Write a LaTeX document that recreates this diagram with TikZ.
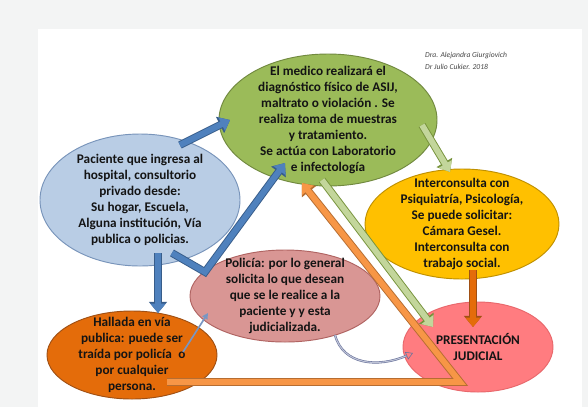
\documentclass[tikz,border=0pt]{standalone}
\usepackage{fontspec}
\setmainfont{Carlito}
\usetikzlibrary{shapes.geometric,arrows.meta}

\definecolor{fondo}{RGB}{243,244,244}
\definecolor{azul}{RGB}{185,205,229}
\definecolor{azulborde}{RGB}{120,148,186}
\definecolor{verde}{RGB}{155,187,89}
\definecolor{verdeborde}{RGB}{113,137,63}
\definecolor{amarillo}{RGB}{255,192,0}
\definecolor{amarilloborde}{RGB}{191,144,0}
\definecolor{rosa}{RGB}{217,150,148}
\definecolor{rosaborde}{RGB}{176,100,98}
\definecolor{naranja}{RGB}{228,108,10}
\definecolor{naranjaborde}{RGB}{160,80,20}
\definecolor{salmon}{RGB}{255,124,128}
\definecolor{salmonborde}{RGB}{232,104,108}
\definecolor{flechaazul}{RGB}{79,129,189}
\definecolor{flechaazulborde}{RGB}{56,93,138}
\definecolor{flechaverde}{RGB}{195,214,155}
\definecolor{flechaverdeborde}{RGB}{119,147,60}
\definecolor{flechanaranja}{RGB}{247,150,70}
\definecolor{flechanaranjaborde}{RGB}{182,109,49}
\definecolor{flechagris}{RGB}{120,150,195}
\definecolor{curvaborde}{RGB}{105,115,155}
\definecolor{curvarelleno}{RGB}{190,195,215}
\definecolor{texto}{RGB}{20,20,20}
\definecolor{credito}{RGB}{70,70,70}

\tikzset{
  globo/.style={ellipse, line width=0.8pt, inner sep=-20pt, align=center,
    font=\fontsize{11.3}{13.6}\selectfont\bfseries, text=texto},
  bloque/.style 2 args={draw=#1, line width=5pt, line join=miter,
    -{Triangle[length=8pt,width=12.5pt]},
    preaction={draw=#2, line width=6.6pt, -{Triangle[length=9.5pt,width=15pt]}}},
  fina/.style={draw=flechagris, line width=1.4pt, -{Triangle[length=5pt,width=5pt]}},
  curva/.style={draw=curvaborde, double=curvarelleno, double distance=0.9pt,
    line width=0.5pt, -{Triangle[open,length=6pt,width=7pt]}},
}

\begin{document}
\begin{tikzpicture}[x=0.03cm, y=-0.03cm]
\useasboundingbox (0,0) rectangle (588,407);
\fill[fondo] (0,0) rectangle (588,407);
\fill[white] (38,29) rectangle (582,407);

% globos
\node[globo, fill=verde, draw=verdeborde, minimum width=6.54cm, minimum height=3.96cm]
  (med) at (328,120) {El medico realizará el\\ diagnóstico físico de ASIJ,\\
  maltrato o violación . Se\\ realiza toma de muestras\\ y tratamiento.\\
  Se actúa con Laboratorio\\ e infectología};
\node[globo, fill=azul, draw=azulborde, minimum width=6cm, minimum height=3.96cm]
  (pac) at (140,200) {Paciente que ingresa al\\ hospital, consultorio\\
  privado desde:\\ Su hogar, Escuela,\\ Alguna institución, Vía\\ publica o policias.};
\node[globo, fill=amarillo, draw=amarilloborde, minimum width=5.82cm, minimum height=3.3cm]
  (int) at (462,224) {Interconsulta con\\ Psiquiatría, Psicología,\\
  Se puede solicitar:\\ Cámara Gesel.\\ Interconsulta con\\ trabajo social.};
\node[globo, fill=rosa, draw=rosaborde, minimum width=5.7cm, minimum height=2.76cm]
  (pol) at (285,296) {Policía: por lo general\\ solicita lo que desean\\
  que se le realice a la\\ paciente y y esta\\ judicializada.};
\node[globo, fill=naranja, draw=naranjaborde, minimum width=5.1cm, minimum height=2.64cm]
  (hal) at (132,355) {Hallada en vía\\ publica: puede ser\\ traída por policía\enspace o\\
  por cualquier\\ persona.};
\node[globo, fill=salmon, draw=salmonborde, minimum width=4.5cm, minimum height=2.7cm]
  (pre) at (478,347) {PRESENTACIÓN\\ JUDICIAL};

% flechas
\draw[bloque={flechaazul}{flechaazulborde}] ([shift={(40,-55)}]pac.center) -- ([shift={(-98,0)}]med.center);
\draw[bloque={flechaazul}{flechaazulborde}] ([shift={(32,53)}]pac.center)
  -- ([shift={(-80,-24)}]pol.center) -- ([shift={(-43,43)}]med.center);
\draw[bloque={flechaazul}{flechaazulborde}] ([shift={(18,53)}]pac.center) -- ([shift={(26,-42)}]hal.center);
\draw[fina] ([shift={(51,-3)}]hal.center) -- ([shift={(-77,17)}]pol.center);
\draw[bloque={flechaverde}{flechaverdeborde}] ([shift={(94,5)}]med.center) -- ([shift={(-12,-52)}]int.center);
\draw[bloque={flechaverde}{flechaverdeborde}] ([shift={(-6,60)}]med.center) -- ([shift={(-45,-20)}]pre.center);
\draw[bloque={flechanaranja}{flechanaranjaborde}] ([shift={(35,27)}]hal.center)
  -- ([shift={(-18,35)}]pre.center) -- ([shift={(-26,63)}]med.center);
\draw[bloque={naranja}{naranjaborde}] ([shift={(11,46)}]int.center) -- ([shift={(-5,-20)}]pre.center);
\draw[curva] ([shift={(50,39)}]pol.center) .. controls +(8,30) and +(-35,15) .. ([shift={(-65,6)}]pre.center);

\node[align=left, anchor=west, text=credito, font=\fontsize{6.5}{10}\selectfont\itshape]
  (autores) at (421,61) {Dra. Alejandra Giurgiovich\\ Dr Julio Cukier. 2018};
\end{tikzpicture}
\end{document}
